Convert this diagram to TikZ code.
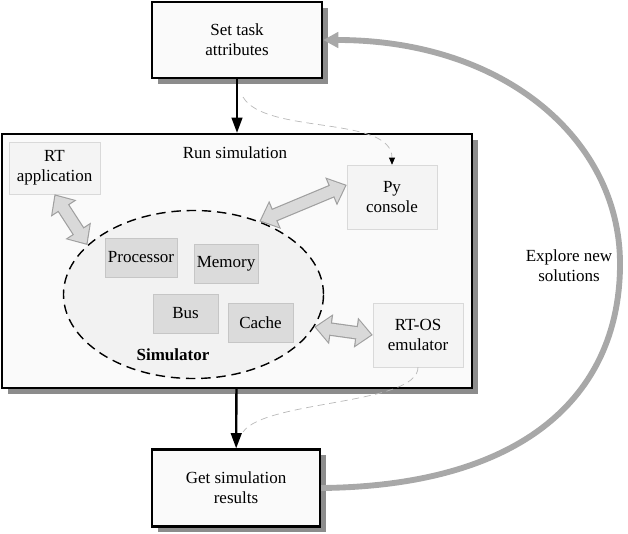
\documentclass[tikz,border=0pt]{standalone}
\usepackage{fontspec}
\setmainfont{Liberation Serif}
\usetikzlibrary{arrows.meta,shapes.geometric,shadows}
\begin{document}
\begin{tikzpicture}[x=0.03cm,y=-0.03cm,
  font=\fontsize{14.5}{17}\selectfont,
  stepbox/.style={draw, line width=1.8pt, fill=gray!4, align=center,
    drop shadow={shadow xshift=5pt, shadow yshift=-5pt, fill=gray!90, opacity=1}},
  softbox/.style={draw=gray!30, fill=gray!9, align=center, inner sep=0pt,
    minimum width=2.7cm, minimum height=1.92cm},
  partbox/.style={draw=gray!45, fill=gray!28, inner sep=0pt, minimum height=1.17cm},
  flow/.style={line width=2pt, >={Triangle[width=9pt,length=13pt]}, ->},
  hint/.style={draw=gray!55, line width=0.6pt, dash pattern=on 6pt off 4pt},
  fat/.style={line width=9.5pt, draw=gray!30, shorten <=1.5pt, shorten >=1.5pt,
    >={Triangle[width=21pt,length=12pt]}, <->,
    preaction={draw=gray!75, line width=11.5pt, shorten <=0pt, shorten >=0pt,
      >={Triangle[width=25pt,length=14.5pt]}, <->}}
]
\useasboundingbox (0,0) rectangle (628,533);
\node[stepbox, minimum width=5.1cm, minimum height=2.28cm] (set) at (237,40) {Set task\\attributes};
\node[stepbox, minimum width=14.1cm, minimum height=7.62cm] (run) at (237,261) {};
\node[stepbox, minimum width=5.04cm, minimum height=2.31cm] (get) at (236,488) {Get simulation\\results};
\node (runlabel) at (235,153) {Run simulation};
\node[ellipse, draw, line width=1.2pt, dash pattern=on 8pt off 5pt, fill=gray!10,
  minimum width=7.8cm, minimum height=5.04cm, inner sep=0pt] (sim) at (193.5,294.5) {};
\node[partbox, minimum width=2.16cm] (proc) at (141,257.5) {Processor};
\node[partbox, minimum width=1.92cm] (mem) at (226,263.5) {Memory};
\node[partbox, minimum width=1.95cm] (bus) at (185.5,313.5) {Bus};
\node[partbox, minimum width=1.95cm] (cache) at (260.5,322.5) {Cache};
\node (simlabel) at (173,355) {\bfseries Simulator};
\node[softbox, minimum width=2.73cm, minimum height=1.56cm] (rtapp) at (54.5,168) {RT\\application};
\node[softbox] (py) at (392,197) {Py\\console};
\node[softbox] (rtos) at (418,335) {RT-OS\\emulator};
\node[align=center] (explore) at (569,266) {Explore new\\solutions};
% fat links into the simulator
\draw[fat] (rtapp.south) -- (sim.155);
\draw[fat] (sim.48) -- (py.165);
\draw[fat] (sim.-15) -- (rtos.west);
% dashed hints
\coordinate (dsrc) at (243,97);
\coordinate (dend) at (243,432);
\draw[hint, -{Triangle[width=5pt,length=6pt,color=black]}] (dsrc) .. controls (265,135) and (392,115) .. (py.north);
\draw[hint] (rtos.south) .. controls (418,405) and (265,400) .. (dend);
% main flow
\draw[flow] (set) -- (run);
\draw[flow] (run) -- (get);
\coordinate (turn) at (620,262);
\draw[line width=5pt, gray!68, -{Triangle[width=13pt,length=13pt]}] (get.east) .. controls (530,486) and (621,390) .. (turn) .. controls (619,140) and (505,40) .. (set.east);
\end{tikzpicture}
\end{document}
